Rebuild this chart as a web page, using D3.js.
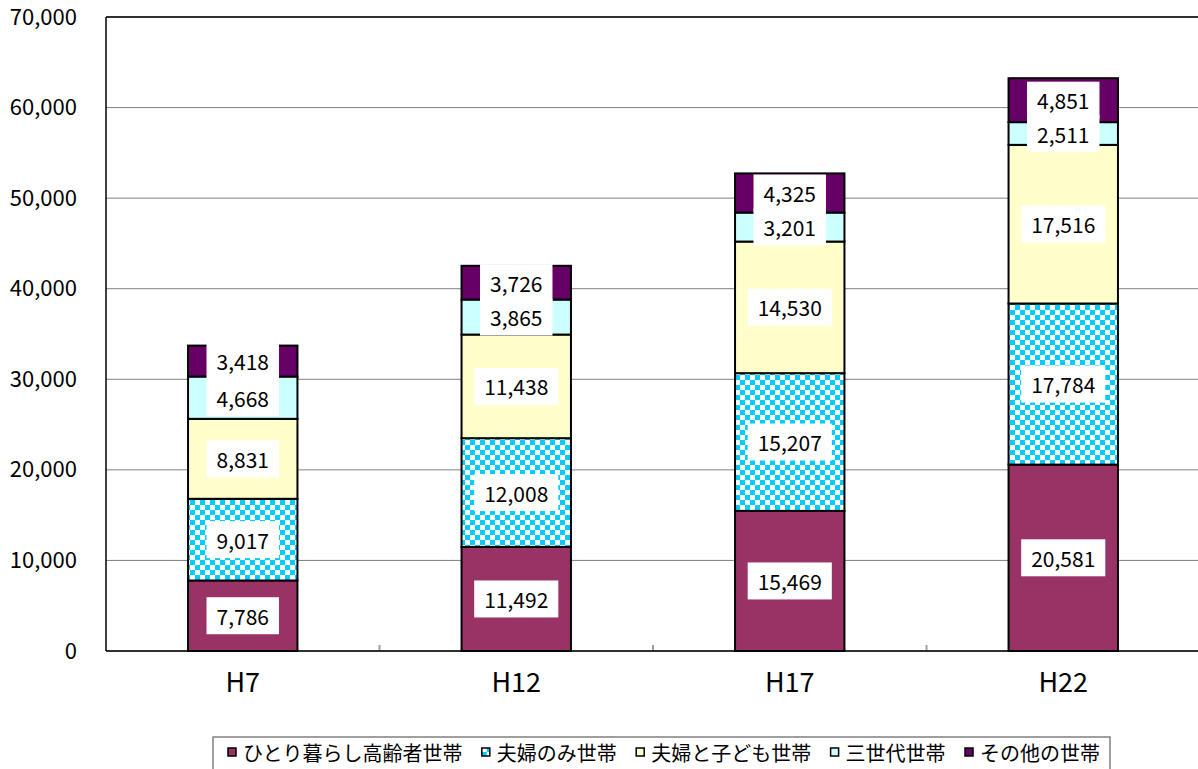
<!DOCTYPE html>
<html>
<head>
<meta charset="utf-8">
<script src="https://cdn.jsdelivr.net/npm/d3@7"></script>
<style>
  body { margin: 0; background: #fff; }
  svg text { font-family: "Noto Sans CJK JP", "Noto Sans", sans-serif; fill: #000; }
</style>
</head>
<body>
<svg id="chart" width="1198" height="769"></svg>
<script>
// data
const years = ["H7", "H12", "H17", "H22"];
const seriesNames = ["ひとり暮らし高齢者世帯", "夫婦のみ世帯", "夫婦と子ども世帯", "三世代世帯", "その他の世帯"];
const hitori = [7786, 11492, 15469, 20581];
const fufuOnly = [9017, 12008, 15207, 17784];
const fufuKodomo = [8831, 11438, 14530, 17516];
const sansedai = [4668, 3865, 3201, 2511];
const sonota = [3418, 3726, 4325, 4851];
const yTicks = [0, 10000, 20000, 30000, 40000, 50000, 60000, 70000];

const seriesFill = ["#993366", "url(#checker)", "#FFFFCC", "#CCFFFF", "#660066"];

const rows = years.map((y, i) => ({
    year: y,
    s0: hitori[i], s1: fufuOnly[i], s2: fufuKodomo[i], s3: sansedai[i], s4: sonota[i]
}));
const keys = ["s0", "s1", "s2", "s3", "s4"];
const stacked = d3.stack().keys(keys)(rows);

const svg = d3.select("#chart");

// checker pattern for 夫婦のみ世帯
const pat = svg.append("defs").append("pattern")
    .attr("id", "checker")
    .attr("patternUnits", "userSpaceOnUse")
    .attr("width", 10).attr("height", 10);
pat.append("rect").attr("width", 10).attr("height", 10).attr("fill", "#ffffff");
pat.append("rect").attr("width", 5).attr("height", 5).attr("fill", "#00CCFF");
pat.append("rect").attr("x", 5).attr("y", 5).attr("width", 5).attr("height", 5).attr("fill", "#00CCFF");

const plotL = 106, plotR = 1200, plotT = 17, plotB = 651;

const x = d3.scaleBand()
    .domain(years)
    .range([plotL, plotR])
    .paddingInner(0.6)
    .paddingOuter(0.3);

const y = d3.scaleLinear()
    .domain([0, 70000])
    .range([plotB, plotT]);

// grid lines
svg.append("g")
    .selectAll("line")
    .data(yTicks)
    .join("line")
    .attr("x1", plotL)
    .attr("x2", 1198)
    .attr("y1", d => y(d))
    .attr("y2", d => y(d))
    .attr("stroke", "#808080")
    .attr("stroke-width", 1);

// plot frame: top + left
svg.append("line").attr("x1", plotL).attr("x2", 1198).attr("y1", plotT).attr("y2", plotT)
    .attr("stroke", "#000").attr("stroke-width", 1.5);
svg.append("line").attr("x1", plotL).attr("x2", plotL).attr("y1", plotT).attr("y2", plotB)
    .attr("stroke", "#000").attr("stroke-width", 1.5);

// y axis labels
const yAxis = svg.append("g")
    .attr("transform", "translate(" + plotL + ",0)")
    .call(d3.axisLeft(y).tickValues(yTicks).tickSize(0).tickPadding(29)
        .tickFormat(d3.format(",")));
yAxis.select(".domain").remove();
yAxis.selectAll("text")
    .style("font-size", "22px")
    .style("font-family", "'Noto Sans CJK JP', sans-serif")
    .attr("fill", "#000");

// category separator ticks
const step = x.step();
svg.append("g")
    .selectAll("line")
    .data(years.slice(1))
    .join("line")
    .attr("x1", d => x(d) + x.bandwidth() / 2 - step / 2)
    .attr("x2", d => x(d) + x.bandwidth() / 2 - step / 2)
    .attr("y1", plotB)
    .attr("y2", plotB - 6)
    .attr("stroke", "#a0a0a0")
    .attr("stroke-width", 2);

// x axis labels
const xAxis = svg.append("g")
    .attr("transform", "translate(0," + plotB + ")")
    .call(d3.axisBottom(x).tickSize(0).tickPadding(22));
xAxis.select(".domain").remove();
xAxis.selectAll("text")
    .style("font-size", "27px")
    .style("font-family", "'Noto Sans CJK JP', sans-serif")
    .attr("fill", "#000");

// bars
stacked.forEach((layer, k) => {
    svg.append("g")
        .selectAll("rect")
        .data(layer)
        .join("rect")
        .attr("x", d => x(d.data.year))
        .attr("width", x.bandwidth())
        .attr("y", d => y(d[1]))
        .attr("height", d => y(d[0]) - y(d[1]))
        .attr("fill", seriesFill[k])
        .attr("stroke", "#000")
        .attr("stroke-width", 2);
});

// bottom axis line drawn over bars
svg.append("line").attr("x1", plotL).attr("x2", 1198).attr("y1", plotB).attr("y2", plotB)
    .attr("stroke", "#000").attr("stroke-width", 1.5);

// value labels with white boxes
stacked.forEach((layer, k) => {
    layer.forEach(d => {
        const cx = x(d.data.year) + x.bandwidth() / 2;
        const cy = (y(d[0]) + y(d[1])) / 2;
        const g = svg.append("g");
        const box = g.append("rect").attr("fill", "#fff");
        const t = g.append("text")
            .text(d3.format(",")(d.data[keys[k]]))
            .attr("x", cx)
            .attr("y", cy)
            .attr("text-anchor", "middle")
            .attr("dominant-baseline", "central")
            .style("font-size", "21px");
        const w = t.node().getComputedTextLength();
        box.attr("x", cx - w / 2 - 10)
            .attr("y", cy - 18.5)
            .attr("width", w + 20)
            .attr("height", 37);
    });
});

// legend
const legend = svg.append("g");
legend.append("rect")
    .attr("x", 213).attr("y", 737)
    .attr("width", 897).attr("height", 45)
    .attr("fill", "#fff")
    .attr("stroke", "#808080")
    .attr("stroke-width", 1.5);

const items = seriesNames.map((name, k) => {
    const g = legend.append("g");
    g.append("rect")
        .attr("width", 8).attr("height", 8)
        .attr("y", -4)
        .attr("fill", seriesFill[k])
        .attr("stroke", "#000")
        .attr("stroke-width", 1.5);
    const t = g.append("text")
        .text(name)
        .attr("x", 15)
        .attr("dominant-baseline", "central")
        .style("font-size", "20px");
    return { g: g, w: 15 + t.node().getComputedTextLength() };
});
const totalW = d3.sum(items, d => d.w);
const gap = (1100 - 228 - totalW) / (items.length - 1);
let lx = 228;
items.forEach(it => {
    it.g.attr("transform", "translate(" + lx + ",752)");
    lx += it.w + gap;
});
</script>
</body>
</html>
